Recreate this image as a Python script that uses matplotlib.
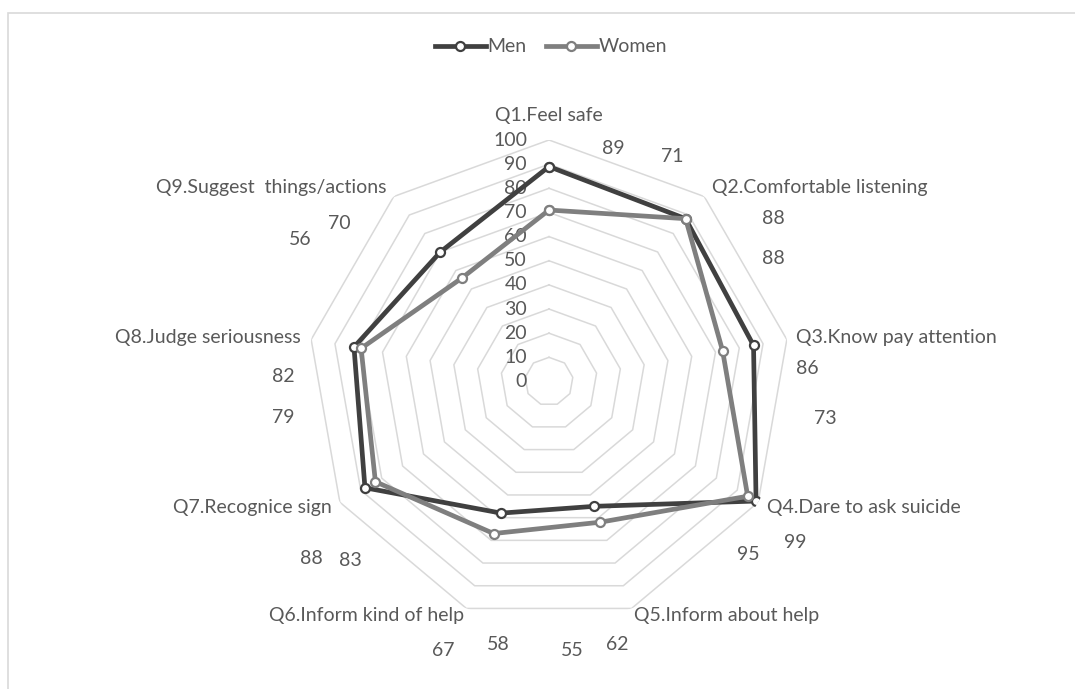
import numpy as np
import matplotlib
matplotlib.use("Agg")
import matplotlib.pyplot as plt
from matplotlib.patches import Rectangle
from matplotlib.lines import Line2D

plt.rcParams['font.family'] = ['Lato', 'DejaVu Sans']

categories = ["Q1.Feel safe", "Q2.Comfortable listening", "Q3.Know pay attention",
              "Q4.Dare to ask suicide", "Q5.Inform about help", "Q6.Inform kind of help",
              "Q7.Recognice sign", "Q8.Judge seriousness", "Q9.Suggest  things/actions"]
men = [89, 88, 86, 99, 55, 58, 88, 82, 70]
women = [71, 88, 73, 95, 62, 67, 83, 79, 56]
ticks = [0, 10, 20, 30, 40, 50, 60, 70, 80, 90, 100]
series_names = ["Men", "Women"]

# layout (pixel positions of Excel-style data labels)
men_label_px = [(613, 148), (773, 218), (807, 368), (795, 542), (572, 650),
                (498, 645), (311, 558), (283, 376), (339, 223)]
women_label_px = [(672, 156), (773, 258), (825, 419), (748, 554), (617, 644),
                  (443, 651), (350, 560), (283, 417), (300, 240)]
cat_label_r = [110, 105, 104, 104, 103, 103, 104, 104.5, 105]
cat_label_ha = ['center', 'left', 'left', 'left', 'left', 'right', 'right', 'right', 'right']

W, H = 1075, 689
fig = plt.figure(figsize=(W / 100, H / 100), dpi=100)
fig.patch.set_facecolor('white')

# chart border
fig.patches.append(Rectangle((8 / W, -0.1), 1.2, (H - 13) / H + 0.1, transform=fig.transFigure,
                             fill=False, edgecolor='#d9d9d9', linewidth=1.2))

cx, cy, R = 549, 381.5, 241.5
ax = fig.add_axes([(cx - R) / W, (H - cy - R) / H, 2 * R / W, 2 * R / H], projection='polar')
ax.set_theta_offset(np.pi / 2)
ax.set_theta_direction(-1)
ax.set_ylim(0, 100)
ax.grid(False)
ax.spines['polar'].set_visible(False)
ax.set_xticks([])
ax.set_yticks([])
ax.patch.set_alpha(0)

n = len(categories)
ang = np.arange(n) * 2 * np.pi / n
ang_c = np.append(ang, ang[0])

text_col = '#595959'
fs = 14

for t in ticks[1:]:
    ax.plot(ang_c, [t] * (n + 1), color='#d9d9d9', lw=1.1, zorder=1)
for t in ticks:
    ax.annotate(str(t), xy=(0, t), xytext=(-22, 0), textcoords='offset pixels',
                ha='right', va='center', fontsize=fs, color=text_col, zorder=2)

colors = ['#404040', '#7f7f7f']
for vals, col in zip([men, women], colors):
    ax.plot(ang_c, vals + [vals[0]], color=col, lw=3.4, marker='o', markersize=6.5,
            markerfacecolor='white', markeredgecolor=col, markeredgewidth=1.6, zorder=3,
            solid_joinstyle='round')

for i, cat in enumerate(categories):
    ax.text(ang[i], cat_label_r[i], cat, ha=cat_label_ha[i], va='center',
            fontsize=fs, color=text_col)

for vals, pos in zip([men, women], [men_label_px, women_label_px]):
    for v, (px, py) in zip(vals, pos):
        fig.text(px / W, 1 - py / H, str(v), ha='center', va='center', fontsize=fs, color=text_col)

handles = [Line2D([], [], color=c, lw=3.4, marker='o', markersize=6.5, markerfacecolor='white',
                  markeredgecolor=c, markeredgewidth=1.6) for c in colors]
fig.legend(handles, series_names, loc='center', bbox_to_anchor=(551 / W, 1 - 47 / H), ncol=2,
           frameon=False, fontsize=fs, handlelength=2.6, handletextpad=0.1, columnspacing=1.0,
           labelcolor=text_col)

fig.savefig('out.png', dpi=100, facecolor='white')
